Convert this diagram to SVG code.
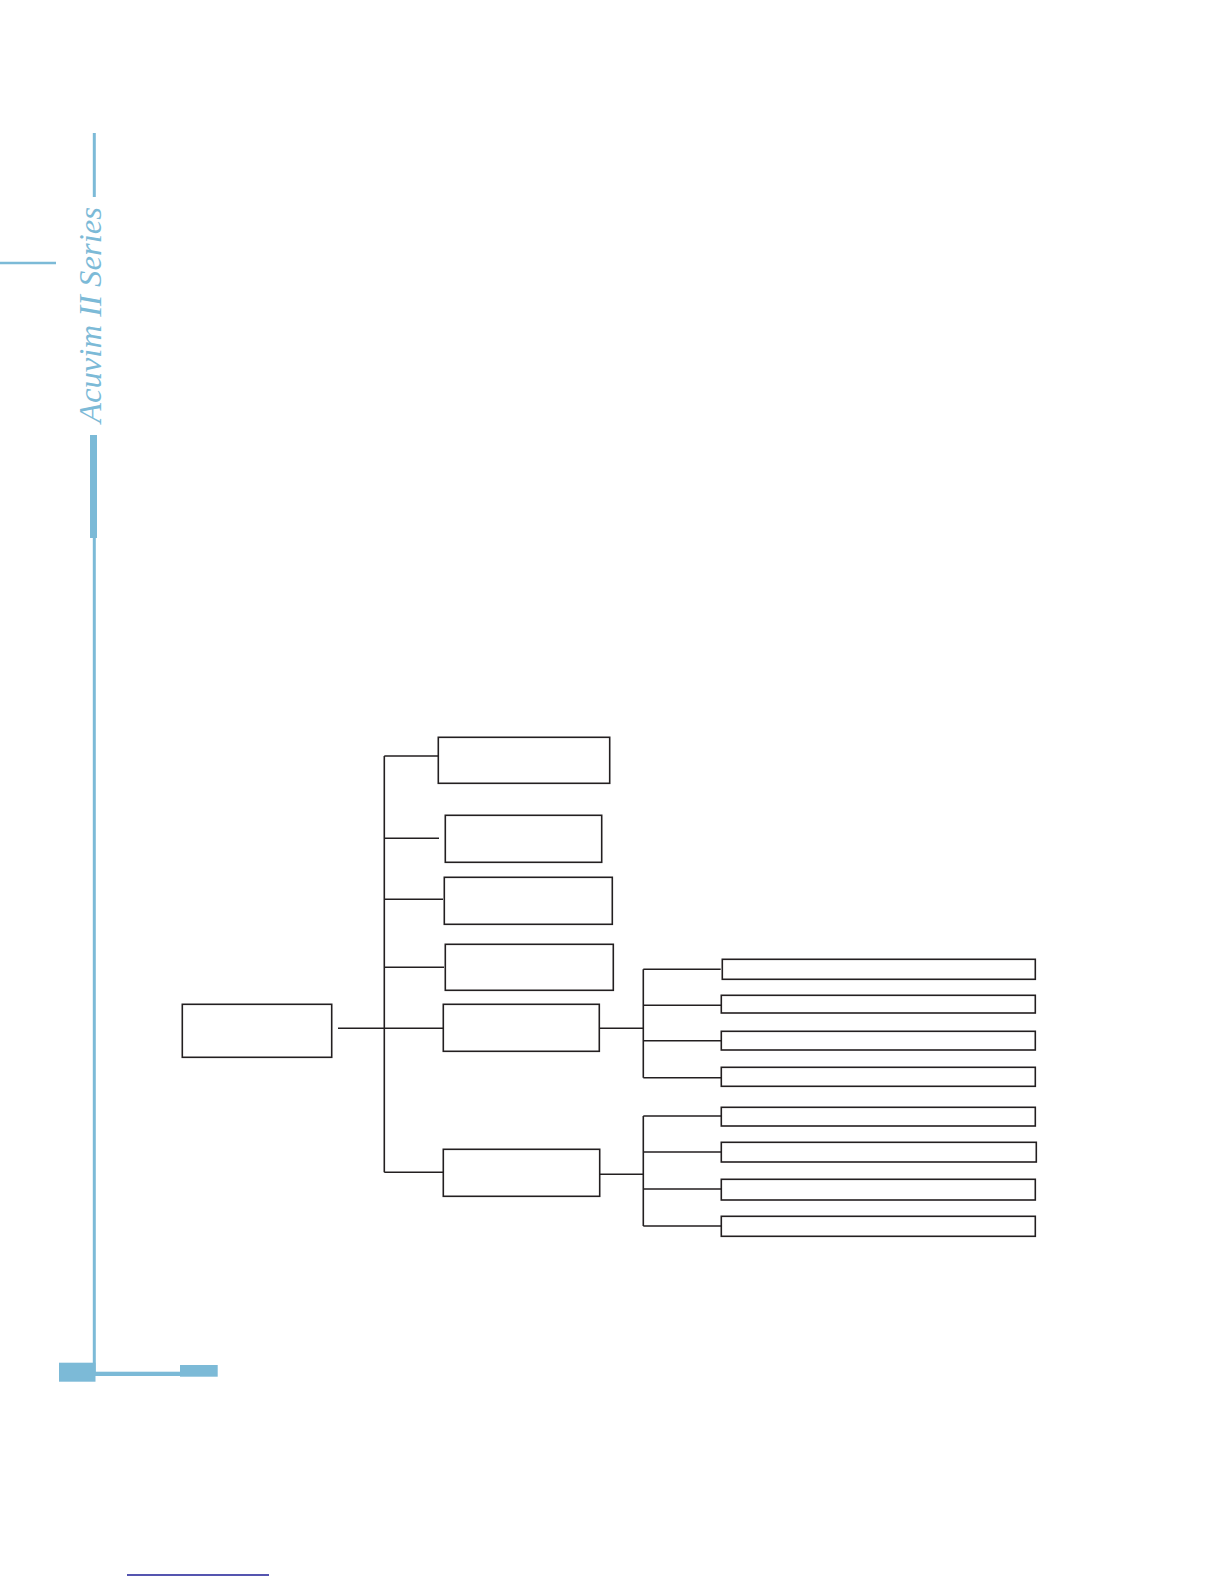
<svg xmlns="http://www.w3.org/2000/svg" width="1224" height="1584" viewBox="0 0 1224 1584">
<style>
.box{fill:#fff;stroke:#231f20;stroke-width:1.6}
.con{fill:none;stroke:#231f20;stroke-width:1.6}
.blue{fill:#7cbad7}
.bl{stroke:#7cbad7;fill:none}
</style>
<rect width="1224" height="1584" fill="#fff"/>
<g id="page-frame">
<line class="bl" x1="94.3" y1="133" x2="94.3" y2="197" stroke-width="3"/>
<line class="bl" x1="0" y1="263" x2="56" y2="263" stroke-width="2.6"/>
<text transform="translate(101,423) rotate(-90)" font-family="'Liberation Serif', serif" font-style="italic" font-size="31" fill="#7cbad7" textLength="216" lengthAdjust="spacingAndGlyphs">Acuvim II Series</text>
<rect class="blue" x="90" y="435" width="7" height="103"/>
<line class="bl" x1="94.3" y1="435" x2="94.3" y2="1374" stroke-width="3"/>
<rect class="blue" x="59" y="1362.7" width="36.5" height="19"/>
<rect class="blue" x="95" y="1371.7" width="86" height="4.3"/>
<rect class="blue" x="180" y="1365" width="37.7" height="11.7"/>
<line x1="127" y1="1575" x2="269" y2="1575" stroke="#1c1c96" stroke-width="1.6"/>
</g>
<g id="connectors">
<path class="con" d="M338 1028.3H643.3M384.3 756V1172.3M384.3 756H438.3M384.3 838.3H439M384.3 899.3H443M384.3 967.3H444M384.3 1172.3H443.3M600 1174.3H643.3"/>
<path class="con" d="M643.3 969.3V1077.7M643.3 969.3H720.7M643.3 1005.3H721.3M643.3 1040.7H721.3M643.3 1077.7H721.3"/>
<path class="con" d="M643.3 1116V1226M643.3 1116H721.3M643.3 1152H721.3M643.3 1189H721.3M643.3 1226H721.3"/>
</g>
<g id="root"><rect class="box" x="182.3" y="1004.3" width="149.4" height="53"/></g>
<g id="n1"><rect class="box" x="438.3" y="737.3" width="171.4" height="46"/></g>
<g id="n2"><rect class="box" x="445.3" y="815.3" width="156.4" height="47"/></g>
<g id="n3"><rect class="box" x="444.3" y="877.3" width="168" height="47"/></g>
<g id="n4"><rect class="box" x="445.3" y="944.3" width="168" height="46"/></g>
<g id="n5"><rect class="box" x="443.3" y="1004.3" width="156" height="47"/></g>
<g id="n6"><rect class="box" x="443.3" y="1149.3" width="156.4" height="47"/></g>
<g id="leaf1"><rect class="box" x="722.3" y="959.3" width="313" height="20"/></g>
<g id="leaf2"><rect class="box" x="721.3" y="995.3" width="314" height="17.7"/></g>
<g id="leaf3"><rect class="box" x="721.3" y="1031.3" width="314" height="18.7"/></g>
<g id="leaf4"><rect class="box" x="721.3" y="1067.3" width="314" height="19"/></g>
<g id="leaf5"><rect class="box" x="721.3" y="1107.3" width="314" height="18.7"/></g>
<g id="leaf6"><rect class="box" x="721.3" y="1142.3" width="315" height="19.7"/></g>
<g id="leaf7"><rect class="box" x="721.3" y="1179.3" width="314" height="20.7"/></g>
<g id="leaf8"><rect class="box" x="721.3" y="1216.3" width="314" height="20"/></g>
</svg>
